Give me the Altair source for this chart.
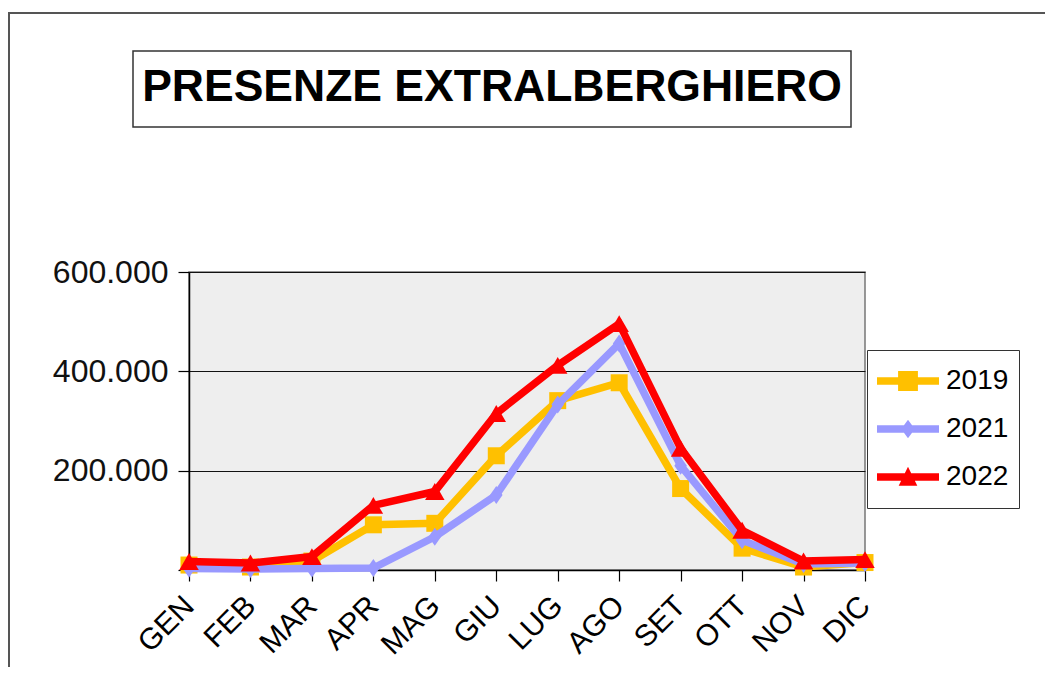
import altair as alt
import pandas as pd

# ---- data ----
months = ["GEN", "FEB", "MAR", "APR", "MAG", "GIU", "LUG", "AGO", "SET", "OTT", "NOV", "DIC"]
series = ["2019", "2021", "2022"]
v2019 = [10000, 6000, 18000, 91000, 94000, 230000, 341000, 377000, 164000, 44000, 6000, 15000]
v2021 = [3000, 2000, 3000, 4000, 67000, 151000, 333000, 456000, 210000, 60000, 12000, 14000]
v2022 = [17000, 14000, 27000, 130000, 158000, 315000, 412000, 496000, 245000, 80000, 18000, 21000]
colors = ["#FFC000", "#9999FF", "#FF0000"]
y_ticks = [0, 200000, 400000, 600000]
title_text = "PRESENZE EXTRALBERGHIERO"

FONT = "Liberation Sans"

rows = []
for s, vals in zip(series, [v2019, v2021, v2022]):
    for m, v in zip(months, vals):
        rows.append({"mese": m, "anno": s, "presenze": v})
df = pd.DataFrame(rows)
deco = pd.DataFrame({"k": [0]})

W, H = 676, 298

x_enc = alt.X(
    "mese:N",
    sort=months,
    scale=alt.Scale(type="point", domain=months, padding=0),
    axis=alt.Axis(
        title=None, labelAngle=-45, labelAlign="right", labelBaseline="middle",
        labelFontSize=30, labelFont=FONT, labelColor="black",
        tickColor="black", tickSize=11, tickWidth=1.2, domainColor="black", domainWidth=1.5,
        labelPadding=20, grid=False, labelOverlap=False,
    ),
)
y_enc = alt.Y(
    "presenze:Q",
    scale=alt.Scale(domain=[0, 600000], nice=False),
    axis=alt.Axis(
        title=None, values=y_ticks,
        labelExpr="datum.value == 0 ? '' : format(datum.value / 1000, 'd') + '.000'",
        labelFontSize=32, labelFont=FONT, labelColor="#111111",
        tickColor="black", tickSize=11, tickWidth=1.2, domainColor="black", domainWidth=1.5,
        grid=True, gridColor="#111111", gridWidth=1, labelPadding=10,
    ),
)

marker_shapes = ["square", "M0,-1L0.7,0L0,1L-0.7,0Z", "triangle-up"]
marker_sizes = [289, 324, 380]

legend_paths = [
    "M-1,-0.123H1V0.123H-1Z M-0.32,-0.32H0.32V0.32H-0.32Z",
    "M-1,-0.123H1V0.123H-1Z M0,-0.3L0.22,0L0,0.3L-0.22,0Z",
    "M-1,-0.123H1V0.123H-1Z M0,-0.33L0.3,0.28L-0.3,0.28Z",
]

# ---- decorations: outer frame and title box ----
outer_top = alt.Chart(deco).mark_rule(color="#555555", strokeWidth=2).encode(
    x=alt.value(-181), x2=alt.value(860), y=alt.value(-259)
)
outer_left = alt.Chart(deco).mark_rule(color="#555555", strokeWidth=2).encode(
    x=alt.value(-180), y=alt.value(-260), y2=alt.value(400)
)
title_box = alt.Chart(deco).mark_rect(fill="white", stroke="#333333", strokeWidth=1.5).encode(
    x=alt.value(-56), x2=alt.value(662), y=alt.value(-221), y2=alt.value(-145)
)
title = alt.Chart(deco).mark_text(
    text=title_text, fontSize=44.5, fontWeight="bold", font=FONT, color="black",
    align="center", baseline="middle",
).encode(x=alt.value(303), y=alt.value(-184.5))

layers = [outer_top, outer_left, title_box, title]

for s, c, shp, sz in zip(series, colors, marker_shapes, marker_sizes):
    base = alt.Chart(df).transform_filter(alt.datum.anno == s)
    layers.append(base.mark_line(color=c, strokeWidth=7.5).encode(x=x_enc, y=y_enc))
    layers.append(
        base.mark_point(filled=True, shape=shp, size=sz, color=c, opacity=1).encode(x=x_enc, y=y_enc)
    )

leg = alt.Legend(
    orient="none", legendX=678, legendY=78, title=None,
    strokeColor="#333333", fillColor="white", padding=10,
    labelFontSize=28, labelFont=FONT, labelColor="black",
    symbolSize=3844, symbolStrokeWidth=0, symbolOpacity=1,
    labelOffset=7, clipHeight=42, rowPadding=6,
)
legend_layer = alt.Chart(df).mark_point(filled=True, opacity=0).encode(
    x=x_enc, y=y_enc,
    color=alt.Color("anno:N", scale=alt.Scale(domain=series, range=colors), legend=leg),
    shape=alt.Shape("anno:N", scale=alt.Scale(domain=series, range=legend_paths), legend=leg),
)
layers.append(legend_layer)

chart = (
    alt.layer(*layers)
    .properties(
        width=W, height=H,
        autosize=alt.AutoSizeParams(type="none"),
        padding={"left": 181, "top": 264, "right": 180, "bottom": 97},
        background="white",
    )
    .configure(font=FONT)
    .configure_view(fill="#EEEEEE", stroke="#777777", strokeWidth=1.5)
)

chart.save("out.html", embed_options={"renderer": "svg", "actions": False})
